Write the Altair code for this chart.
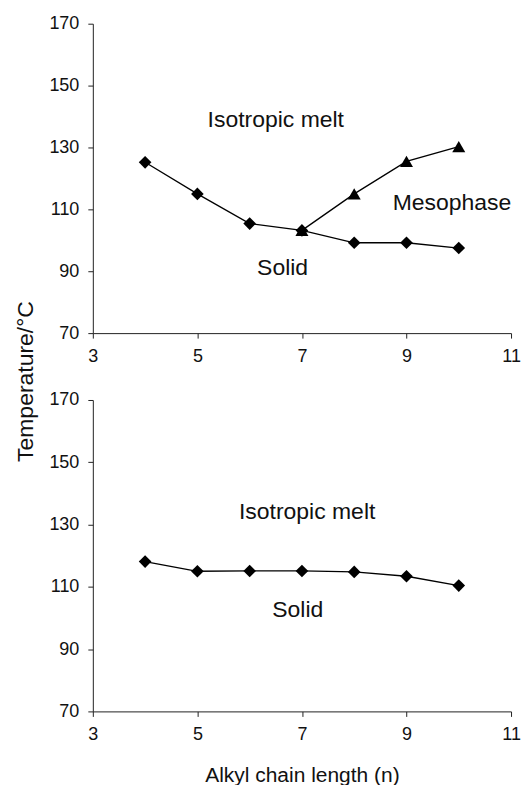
import altair as alt
import pandas as pd

# ---- data ----
n_vals = [4, 5, 6, 7, 8, 9, 10]
top_solid = [125.2, 115.0, 105.4, 103.2, 99.2, 99.2, 97.5]
meso_n = [7, 8, 9, 10]
top_meso = [103.2, 115.0, 125.5, 130.3]
bottom_solid = [118.1, 115.0, 115.1, 115.1, 114.8, 113.4, 110.4]

x_ticks = [3, 5, 7, 9, 11]
y_ticks = [70, 90, 110, 130, 150, 170]

top_labels = ["Isotropic melt", "Mesophase", "Solid"]
top_label_x = [6.5, 9.87, 6.63]
top_label_y = [139, 112, 91]
bottom_labels = ["Isotropic melt", "Solid"]
bottom_label_x = [7.1, 6.92]
bottom_label_y = [134, 102.5]

FONT = "Liberation Sans"
W = 419

df_top_solid = pd.DataFrame({"n": n_vals, "T": top_solid})
df_top_meso = pd.DataFrame({"n": meso_n, "T": top_meso})
df_bot = pd.DataFrame({"n": n_vals, "T": bottom_solid})
df_top_lab = pd.DataFrame({"n": top_label_x, "T": top_label_y, "t": top_labels})
df_bot_lab = pd.DataFrame({"n": bottom_label_x, "T": bottom_label_y, "t": bottom_labels})

xscale = alt.Scale(domain=[3, 11], nice=False, zero=False)
yscale = alt.Scale(domain=[70, 170], nice=False, zero=False)


def x_axis(title):
    kw = dict(values=x_ticks, grid=False, tickSize=5, labelPadding=9, labelFlush=False)
    if title:
        kw.update(titlePadding=21, titleFontSize=21)
    return alt.Axis(**kw)


def y_axis(title):
    kw = dict(values=y_ticks, grid=False, tickSize=5, labelPadding=9, labelFlush=False)
    if title:
        kw.update(titleX=-60, titleY=-19, titleAlign="center",
                  titleBaseline="alphabetic", titleFontSize=23, titleAngle=270)
    return alt.Axis(**kw)


def panel(frames, lab_df, height, xtitle=None, ytitle=None):
    xe = alt.X("n:Q", scale=xscale, axis=x_axis(xtitle), title=xtitle)
    ye = alt.Y("T:Q", scale=yscale, axis=y_axis(ytitle), title=ytitle)
    layers = []
    for df, shape, size in frames:
        layers.append(
            alt.Chart(df).mark_line(color="black", strokeWidth=1.3).encode(x=xe, y=ye)
        )
        layers.append(
            alt.Chart(df).mark_point(
                shape=shape, size=size, filled=True, color="black", opacity=1
            ).encode(x=xe, y=ye)
        )
    layers.append(
        alt.Chart(lab_df).mark_text(
            font=FONT, fontSize=23, color="#111", align="center", baseline="middle"
        ).encode(x=xe, y=ye, text="t:N")
    )
    return alt.layer(*layers).properties(width=W, height=height)


top = panel(
    [(df_top_solid, "diamond", 160), (df_top_meso, "triangle-up", 170)],
    df_top_lab, 310,
)
bottom = panel(
    [(df_bot, "diamond", 160)],
    df_bot_lab, 312, xtitle="Alkyl chain length (n)", ytitle="Temperature/°C",
)

chart = (
    alt.vconcat(top, bottom, spacing=67, bounds="flush")
    .configure_view(stroke=None)
    .configure_axis(
        labelFont=FONT, labelFontSize=18, labelColor="#111",
        titleFont=FONT, titleFontWeight="normal", titleColor="#111",
        domainColor="#222", tickColor="#222", domainWidth=1, tickWidth=1,
    )
    .properties(
        padding={"left": 14, "top": 14, "right": 10, "bottom": 2},
        background="white",
    )
)

chart.save("out.html", embed_options={"renderer": "svg", "actions": False})
